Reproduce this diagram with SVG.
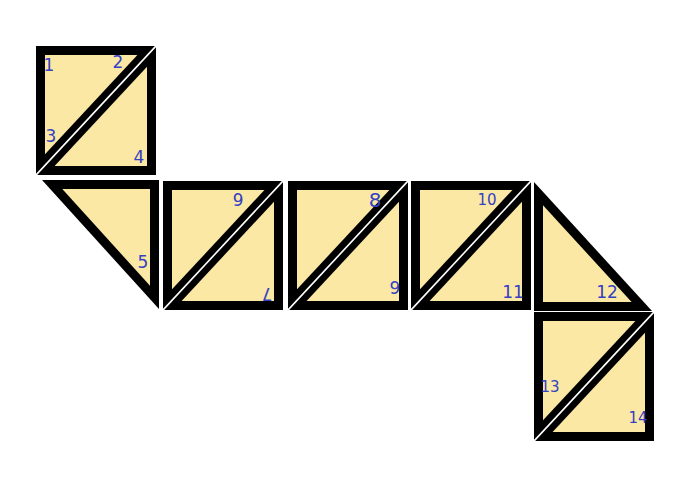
<svg xmlns="http://www.w3.org/2000/svg" xmlns:xlink="http://www.w3.org/1999/xlink" width="680" height="480" viewBox="0 0 680 480">
<style>
.blk{fill:#000}
.fl{fill:#FCE8A5}
.gap{stroke:#fff;stroke-width:1.6}
.lb{font-family:"DejaVu Sans","Liberation Sans",sans-serif;font-size:17px;fill:#3441C2;text-anchor:middle;dominant-baseline:central}
</style>
<defs>
<g id="ul"><polygon class="blk" points="0,0 120,0 0,129"/><polygon class="fl" points="9,9 101.4,9 9,108.3"/></g>
<g id="lr"><polygon class="blk" points="120,0 120,129 0,129"/><polygon class="fl" points="111,20.7 111,120 18.6,120"/><line class="gap" x1="121.5" y1="-1.6" x2="-1.5" y2="130.6"/></g>
</defs>
<rect width="680" height="480" fill="#fff"/>
<g id="t1"><use xlink:href="#ul" href="#ul" x="36" y="46"/><text class="lb" x="49" y="65">1</text><text class="lb" x="118" y="62">2</text><text class="lb" x="51" y="136">3</text></g>
<g id="t4"><use xlink:href="#lr" href="#lr" x="36" y="46"/><text class="lb" x="139" y="157">4</text></g>
<g id="t5"><polygon class="blk" points="42,180 159,180 159,309"/><polygon class="fl" points="62.3,189 150,189 150,285.7"/><text class="lb" x="143" y="262">5</text></g>
<g id="t6"><use xlink:href="#ul" href="#ul" x="163" y="181"/><text class="lb" x="238" y="199" transform="rotate(180 238 199)">6</text></g>
<g id="t7"><use xlink:href="#lr" href="#lr" x="163" y="181"/><text class="lb" x="267" y="294" transform="rotate(180 267 294)">7</text></g>
<g id="t8"><use xlink:href="#ul" href="#ul" x="288" y="181"/><text class="lb" x="375" y="200" style="font-size:20px">8</text></g>
<g id="t9"><use xlink:href="#lr" href="#lr" x="288" y="181"/><text class="lb" x="395" y="288">9</text></g>
<g id="t10"><use xlink:href="#ul" href="#ul" x="411" y="181"/><text class="lb" x="487" y="200" style="font-size:15px">10</text></g>
<g id="t11"><use xlink:href="#lr" href="#lr" x="411" y="181"/><text class="lb" x="513" y="292">11</text></g>
<g id="t12"><polygon class="blk" points="534,182 534,311 652,311"/><polygon class="fl" points="543,205.2 543,302 631.6,302"/><text class="lb" x="607" y="292">12</text></g>
<g id="t13"><use xlink:href="#ul" href="#ul" x="534" y="312"/><text class="lb" x="550" y="387" style="font-size:15px">13</text></g>
<g id="t14"><use xlink:href="#lr" href="#lr" x="534" y="312"/><text class="lb" x="638" y="418" style="font-size:15px">14</text></g>
</svg>
